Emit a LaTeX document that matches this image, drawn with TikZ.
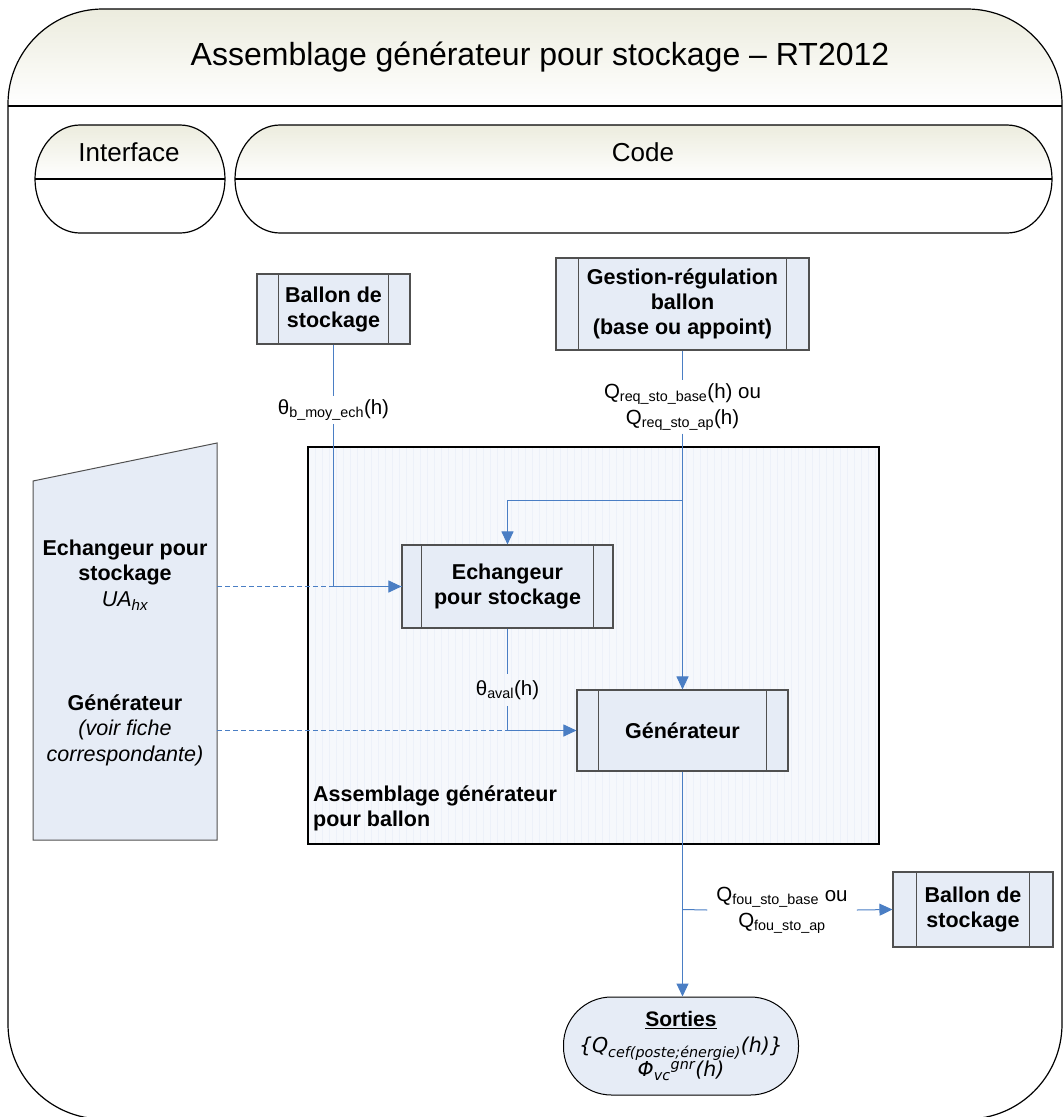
\documentclass[tikz,border=0pt]{standalone}
\usepackage{fontspec}
\setmainfont{Liberation Sans}
\newfontfamily\dejavu{DejaVu Sans}
\usetikzlibrary{arrows.meta,calc}
\definecolor{boxfill}{RGB}{230,236,246}
\definecolor{boxline}{RGB}{80,80,80}
\definecolor{arr}{RGB}{74,126,196}
\definecolor{hdr}{RGB}{236,236,222}
\definecolor{contfill}{RGB}{246,248,252}
\definecolor{contgrid}{RGB}{237,241,249}
\begin{document}
\begin{tikzpicture}[x=1pt,y=-1pt,
  proc/.style={draw=boxline, line width=1.1pt, fill=boxfill, align=center,
    font=\fontsize{21.5}{25}\selectfont\bfseries, inner sep=0pt},
  flow/.style={draw=arr, line width=1pt},
  flowarr/.style={flow, -{Triangle[length=13pt,width=12pt]}},
  dashedflow/.style={draw=arr, line width=0.8pt, dash pattern=on 5pt off 3pt},
  lbl/.style={font=\fontsize{20.5}{26}\selectfont, align=center, inner sep=3pt},
  hdrtext/.style={font=\fontsize{26}{30}\selectfont},
  frame/.style={draw=black, line width=1.2pt}]
\useasboundingbox (0,0) rectangle (1064,1117);
\clip (0,0) rectangle (1064,1117);

% outer frame
\begin{scope}
  \clip[rounded corners=95] (8,9) rectangle (1062,1119);
  \shade[top color=hdr, bottom color=white] (8,9) rectangle (1062,106);
\end{scope}
\draw[frame, rounded corners=95] (8,9) rectangle (1062,1119);
\draw[frame] (8,106) -- (1062,106);
\node[font=\fontsize{32}{38}\selectfont] (title) at (540,57) {Assemblage générateur pour stockage – RT2012};

% Interface / Code lane headers
\def\ifpath{(80,125) -- (180,125) .. controls (204.8,125) and (225,149.2) .. (225,179) .. controls (225,208.8) and (204.8,233) .. (180,233) -- (80,233) .. controls (55.2,233) and (35,208.8) .. (35,179) .. controls (35,149.2) and (55.2,125) .. (80,125) -- cycle}
\def\codepath{(280,125) -- (1007,125) .. controls (1031.8,125) and (1052,149.2) .. (1052,179) .. controls (1052,208.8) and (1031.8,233) .. (1007,233) -- (280,233) .. controls (255.2,233) and (235,208.8) .. (235,179) .. controls (235,149.2) and (255.2,125) .. (280,125) -- cycle}
\begin{scope}
  \clip \ifpath;
  \shade[top color=hdr, bottom color=white] (30,125) rectangle (230,179);
\end{scope}
\draw[frame] \ifpath;
\draw[frame] (35,179) -- (225,179);
\begin{scope}
  \clip \codepath;
  \shade[top color=hdr, bottom color=white] (230,125) rectangle (1060,179);
\end{scope}
\draw[frame] \codepath;
\draw[frame] (235,179) -- (1052,179);
\node[hdrtext] (iflab) at (129,152) {Interface};
\node[hdrtext] (codelab) at (643,152) {Code};

% interface trapezoid
\draw[draw=boxline, line width=1pt, fill=boxfill] (33,481) -- (217,443) -- (217,840) -- (33,840) -- cycle;
\node[font=\fontsize{21.5}{25.5}\selectfont, align=center] (ifech) at (125,575)
  {\textbf{Echangeur pour}\\\textbf{stockage}\\\textit{UA\textsubscript{hx}}};
\node[font=\fontsize{21.5}{25.5}\selectfont, align=center] (ifgen) at (125,730)
  {\textbf{Générateur}\\\textit{(voir fiche}\\\textit{correspondante)}};
\coordinate (t1) at (217,586.5);
\coordinate (t2) at (217,730.5);

% container
\fill[contfill] (308,447) rectangle (879,844);
\draw[contgrid, line width=0.5pt, step=7] (308,447) grid (879,844);
\draw[frame] (308,447) rectangle (879,844);
\node[font=\fontsize{21.5}{25}\selectfont\bfseries, align=left, anchor=north west, inner sep=0pt] (contlab) at (313,786)
  {Assemblage générateur\\pour ballon};

% process boxes
\node[proc, minimum width=153, minimum height=70] (ball1) at (333.5,309) {Ballon de\\stockage};
\node[proc, minimum width=253, minimum height=92] (gest) at (682.5,304) {Gestion-régulation\\ballon\\(base ou appoint)};
\node[proc, minimum width=211, minimum height=83] (ech) at (507.5,586.5) {Echangeur\\pour stockage};
\node[proc, minimum width=211, minimum height=81] (gen) at (682.5,730.5) {Générateur};
\node[proc, minimum width=160, minimum height=75] (ball2) at (973,909.5) {Ballon de\\stockage};
\foreach \n/\d in {ball1/22,gest/23,ech/20,gen/22,ball2/24}{
  \draw[boxline, line width=1.1pt] ([xshift=\d]\n.north west) -- ([xshift=\d]\n.south west)
    ([xshift=-\d]\n.north east) -- ([xshift=-\d]\n.south east);
}
\node[draw=black, line width=1pt, fill=boxfill, rounded corners=48, minimum width=235, minimum height=98,
  align=center, font=\fontsize{21}{24}\selectfont, inner sep=0pt] (sort) at (681,1046)
  {\textbf{\underline{Sorties}}\\[2pt]{\dejavu\itshape\fontsize{20.5}{24}\selectfont \{Q\textsubscript{cef(poste;énergie)}(h)\}}\\[0pt]{\dejavu\itshape\fontsize{20.5}{24}\selectfont Φ\textsubscript{vc}\textsuperscript{gnr}(h)}};

% labels
\node[lbl] (lab1) at (333.5,410) {θ\textsubscript{b\_moy\_ech}(h)};
\node[lbl] (lab2) at (682.5,407) {Q\textsubscript{req\_sto\_base}(h) ou\\Q\textsubscript{req\_sto\_ap}(h)};
\node[lbl, inner ysep=6pt] (lab3) at (507.5,690) {θ\textsubscript{aval}(h)};
\node[lbl, inner xsep=9pt] (lab4) at (782,910) {Q\textsubscript{fou\_sto\_base} ou\\Q\textsubscript{fou\_sto\_ap}};
\coordinate (j1) at (682.5,500);
\coordinate (j2) at (682.5,909.5);

% connectors
\draw[dashedflow] (t1) -- (ech.west);
\draw[dashedflow] (t2) -- (gen.west);
\draw[flow] (ball1.south) -- (lab1.north);
\draw[flowarr] (lab1.south) |- (ech.west);
\draw[flow] (gest.south) -- (lab2.north);
\draw[flowarr] (lab2.south) -- (gen.north);
\draw[flowarr] (j1) -| (ech.north);
\draw[flow] (ech.south) -- (lab3.north);
\draw[flowarr] (lab3.south) |- (gen.west);
\draw[flowarr] (gen.south) -- (sort.north -| gen.south);
\draw[flow] (j2) -- (lab4.west);
\draw[flowarr] (lab4.east) -- (ball2.west);
\end{tikzpicture}
\end{document}
